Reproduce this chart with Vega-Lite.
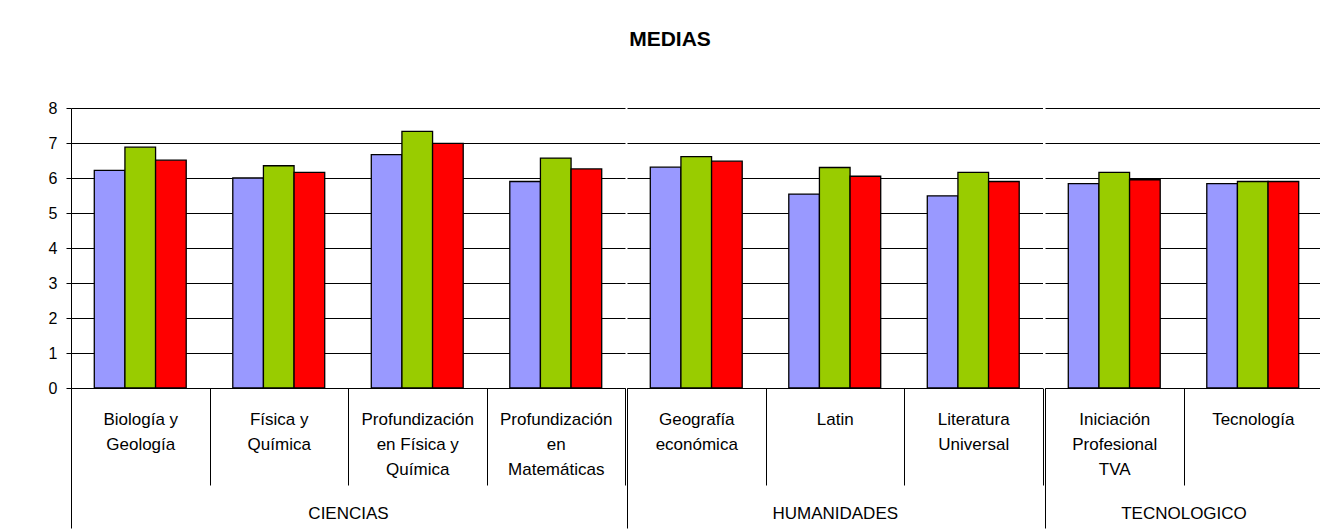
{
  "$schema": "https://vega.github.io/schema/vega-lite/v6.json",
  "padding": {"left": 48, "top": 29, "right": 0, "bottom": 0},
  "background": "white",
  "data": {"values": [
    {"grupo": "CIENCIAS", "asignatura": "Biología y\nGeología", "serie": "Serie1", "media": 6.22},
    {"grupo": "CIENCIAS", "asignatura": "Biología y\nGeología", "serie": "Serie2", "media": 6.88},
    {"grupo": "CIENCIAS", "asignatura": "Biología y\nGeología", "serie": "Serie3", "media": 6.51},
    {"grupo": "CIENCIAS", "asignatura": "Física y\nQuímica", "serie": "Serie1", "media": 6.00},
    {"grupo": "CIENCIAS", "asignatura": "Física y\nQuímica", "serie": "Serie2", "media": 6.35},
    {"grupo": "CIENCIAS", "asignatura": "Física y\nQuímica", "serie": "Serie3", "media": 6.16},
    {"grupo": "CIENCIAS", "asignatura": "Profundización\nen Física y\nQuímica", "serie": "Serie1", "media": 6.67},
    {"grupo": "CIENCIAS", "asignatura": "Profundización\nen Física y\nQuímica", "serie": "Serie2", "media": 7.33},
    {"grupo": "CIENCIAS", "asignatura": "Profundización\nen Física y\nQuímica", "serie": "Serie3", "media": 6.99},
    {"grupo": "CIENCIAS", "asignatura": "Profundización\nen\nMatemáticas", "serie": "Serie1", "media": 5.90},
    {"grupo": "CIENCIAS", "asignatura": "Profundización\nen\nMatemáticas", "serie": "Serie2", "media": 6.57},
    {"grupo": "CIENCIAS", "asignatura": "Profundización\nen\nMatemáticas", "serie": "Serie3", "media": 6.26},
    {"grupo": "HUMANIDADES", "asignatura": "Geografía\neconómica", "serie": "Serie1", "media": 6.31},
    {"grupo": "HUMANIDADES", "asignatura": "Geografía\neconómica", "serie": "Serie2", "media": 6.61},
    {"grupo": "HUMANIDADES", "asignatura": "Geografía\neconómica", "serie": "Serie3", "media": 6.48},
    {"grupo": "HUMANIDADES", "asignatura": "Latin", "serie": "Serie1", "media": 5.54},
    {"grupo": "HUMANIDADES", "asignatura": "Latin", "serie": "Serie2", "media": 6.30},
    {"grupo": "HUMANIDADES", "asignatura": "Latin", "serie": "Serie3", "media": 6.05},
    {"grupo": "HUMANIDADES", "asignatura": "Literatura\nUniversal", "serie": "Serie1", "media": 5.49},
    {"grupo": "HUMANIDADES", "asignatura": "Literatura\nUniversal", "serie": "Serie2", "media": 6.16},
    {"grupo": "HUMANIDADES", "asignatura": "Literatura\nUniversal", "serie": "Serie3", "media": 5.90},
    {"grupo": "TECNOLOGICO", "asignatura": "Iniciación\nProfesional\nTVA", "serie": "Serie1", "media": 5.84},
    {"grupo": "TECNOLOGICO", "asignatura": "Iniciación\nProfesional\nTVA", "serie": "Serie2", "media": 6.16},
    {"grupo": "TECNOLOGICO", "asignatura": "Iniciación\nProfesional\nTVA", "serie": "Serie3", "media": 5.95},
    {"grupo": "TECNOLOGICO", "asignatura": "Tecnología", "serie": "Serie1", "media": 5.84},
    {"grupo": "TECNOLOGICO", "asignatura": "Tecnología", "serie": "Serie2", "media": 5.90},
    {"grupo": "TECNOLOGICO", "asignatura": "Tecnología", "serie": "Serie3", "media": 5.90}
  ]},
  "title": {"text": "MEDIAS", "fontSize": 21, "fontWeight": "bold", "color": "black", "anchor": "middle", "offset": 50, "dx": -15},
  "spacing": 0,
  "resolve": {"scale": {"x": "independent", "xOffset": "independent"}},
  "hconcat": [
    {
      "transform": [{"filter": "datum.grupo === 'CIENCIAS'"}],
      "width": 554, "height": 280,
      "mark": {"type": "bar", "stroke": "black", "strokeWidth": 1.3},
      "encoding": {
        "x": {"field": "asignatura", "type": "nominal", "sort": null,
              "scale": {"paddingInner": 0, "paddingOuter": 0},
              "axis": {"title": "CIENCIAS"}},
        "xOffset": {"field": "serie", "type": "nominal", "scale": {"paddingInner": 0, "paddingOuter": 0.76}},
        "y": {"field": "media", "type": "quantitative", "scale": {"domain": [0, 8]},
              "axis": {"values": [0,1,2,3,4,5,6,7,8], "title": null, "tickSize": 5, "labelPadding": 9, "labelFontSize": 16, "labelColor": "black", "tickColor": "black", "domainColor": "black", "gridColor": "black", "grid": true}},
        "color": {"field": "serie", "type": "nominal", "scale": {"range": ["#9999FF", "#99CC00", "#FF0000"]}, "legend": null}
      }
    },
    {
      "transform": [{"filter": "datum.grupo === 'HUMANIDADES'"}],
      "width": 415.5, "height": 280,
      "mark": {"type": "bar", "stroke": "black", "strokeWidth": 1.3},
      "encoding": {
        "x": {"field": "asignatura", "type": "nominal", "sort": null,
              "scale": {"paddingInner": 0, "paddingOuter": 0},
              "axis": {"title": "HUMANIDADES"}},
        "xOffset": {"field": "serie", "type": "nominal", "scale": {"paddingInner": 0, "paddingOuter": 0.76}},
        "y": {"field": "media", "type": "quantitative", "scale": {"domain": [0, 8]},
              "axis": {"values": [0,1,2,3,4,5,6,7,8], "title": null, "labels": false, "ticks": false, "domain": false, "gridColor": "black", "grid": true}},
        "color": {"field": "serie", "type": "nominal", "scale": {"range": ["#9999FF", "#99CC00", "#FF0000"]}, "legend": null}
      }
    },
    {
      "transform": [{"filter": "datum.grupo === 'TECNOLOGICO'"}],
      "width": 277, "height": 280,
      "mark": {"type": "bar", "stroke": "black", "strokeWidth": 1.3},
      "encoding": {
        "x": {"field": "asignatura", "type": "nominal", "sort": null,
              "scale": {"paddingInner": 0, "paddingOuter": 0},
              "axis": {"title": "TECNOLOGICO", "tickOpacity": {"condition": {"test": "datum.index === 1", "value": 0}, "value": 1}}},
        "xOffset": {"field": "serie", "type": "nominal", "scale": {"paddingInner": 0, "paddingOuter": 0.76}},
        "y": {"field": "media", "type": "quantitative", "scale": {"domain": [0, 8]},
              "axis": {"values": [0,1,2,3,4,5,6,7,8], "title": null, "labels": false, "ticks": false, "domain": false, "gridColor": "black", "grid": true}},
        "color": {"field": "serie", "type": "nominal", "scale": {"range": ["#9999FF", "#99CC00", "#FF0000"]}, "legend": null}
      }
    }
  ],
  "config": {
    "font": "Liberation Sans",
    "view": {"stroke": null},
    "axis": {"gridOpacity": 1, "gridWidth": 1, "domainWidth": 1, "tickWidth": 1},
    "axisX": {
      "tickBand": "extent",
      "tickSize": {"condition": {"test": "datum.index === -1", "value": 140}, "value": 97},
      "tickColor": "black",
      "domainColor": "black",
      "labelPadding": -74,
      "labelExpr": "split(datum.label, '\\n')",
      "labelFontSize": 17,
      "labelLineHeight": 25,
      "labelAngle": 0,
      "labelBaseline": "top",
      "labelColor": "black",
      "labelLimit": 0,
      "titleY": 125,
      "titleBaseline": "middle",
      "titleFontWeight": "normal",
      "titleFontSize": 17,
      "titleColor": "black",
      "grid": false
    }
  }
}
